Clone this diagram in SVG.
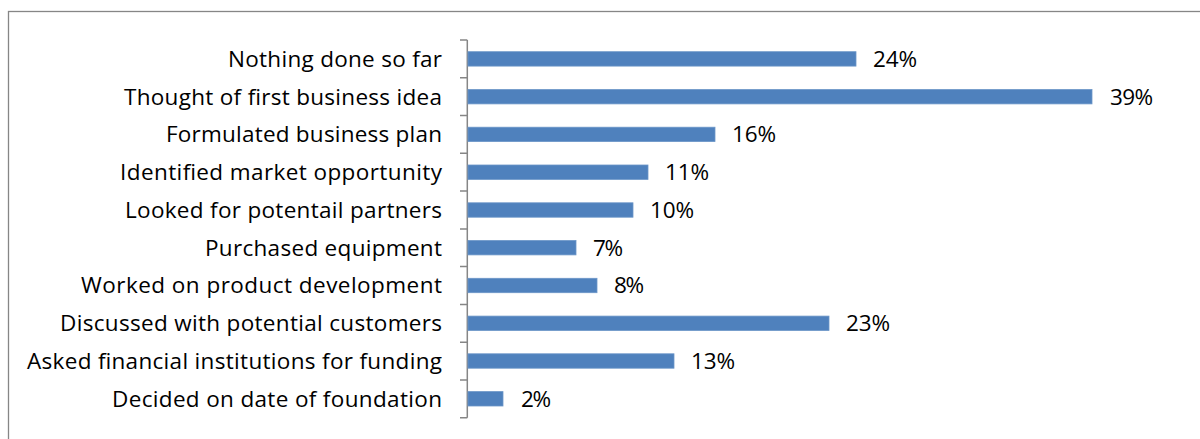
<svg xmlns="http://www.w3.org/2000/svg" width="1200" height="439" viewBox="0 0 1200 439">
<style>
.bar{fill:#4F81BD;stroke:#6C96C8;stroke-width:0.8}
.cat{font-family:"Open Sans","Liberation Sans",Arial,sans-serif;font-size:22.5px;fill:#000;text-anchor:end}
.val{font-family:"Open Sans","Liberation Sans",Arial,sans-serif;font-size:22.5px;fill:#000}
.ax{stroke:#868686;stroke-width:1.5;fill:none}
</style>
<rect x="0" y="0" width="1200" height="439" fill="#fff"/>
<rect x="8.5" y="11.5" width="1200" height="440" fill="none" stroke="#868686" stroke-width="1.3"/>
<g id="axis" class="ax">
<path d="M467.3 40V417.7"/>
<path d="M460 40H467.3M460 77.8H467.3M460 115.5H467.3M460 153.3H467.3M460 191.1H467.3M460 228.9H467.3M460 266.6H467.3M460 304.4H467.3M460 342.2H467.3M460 379.9H467.3M460 417.7H467.3"/>
</g>
<g id="bar1"><rect class="bar" x="468" y="51.7" width="388" height="14.4"/><text class="cat" x="442" y="66.7" textLength="214">Nothing done so far</text><text class="val" x="873" y="66.7" textLength="44">24%</text></g>
<g id="bar2"><rect class="bar" x="468" y="89.5" width="624" height="14.4"/><text class="cat" x="442" y="104.5" textLength="318">Thought of first business idea</text><text class="val" x="1110" y="104.5" textLength="43">39%</text></g>
<g id="bar3"><rect class="bar" x="468" y="127.2" width="247" height="14.4"/><text class="cat" x="442" y="142.2" textLength="276">Formulated business plan</text><text class="val" x="732" y="142.2" textLength="44">16%</text></g>
<g id="bar4"><rect class="bar" x="468" y="165" width="180" height="14.4"/><text class="cat" x="442" y="180" textLength="322">Identified market opportunity</text><text class="val" x="665" y="180" textLength="44">11%</text></g>
<g id="bar5"><rect class="bar" x="468" y="202.8" width="165" height="14.4"/><text class="cat" x="442" y="217.8" textLength="317">Looked for potentail partners</text><text class="val" x="650" y="217.8" textLength="44">10%</text></g>
<g id="bar6"><rect class="bar" x="468" y="240.5" width="108" height="14.4"/><text class="cat" x="442" y="255.5" textLength="237">Purchased equipment</text><text class="val" x="593" y="255.5" textLength="30">7%</text></g>
<g id="bar7"><rect class="bar" x="468" y="278.3" width="129" height="14.4"/><text class="cat" x="442" y="293.3" textLength="361">Worked on product development</text><text class="val" x="614" y="293.3" textLength="30">8%</text></g>
<g id="bar8"><rect class="bar" x="468" y="316.1" width="361" height="14.4"/><text class="cat" x="442" y="331.1" textLength="382">Discussed with potential customers</text><text class="val" x="846" y="331.1" textLength="44">23%</text></g>
<g id="bar9"><rect class="bar" x="468" y="353.8" width="206" height="14.4"/><text class="cat" x="442" y="368.8" textLength="415">Asked financial institutions for funding</text><text class="val" x="691" y="368.8" textLength="44">13%</text></g>
<g id="bar10"><rect class="bar" x="468" y="391.6" width="35" height="14.4"/><text class="cat" x="442" y="406.6" textLength="330">Decided on date of foundation</text><text class="val" x="521" y="406.6" textLength="30">2%</text></g>
</svg>
